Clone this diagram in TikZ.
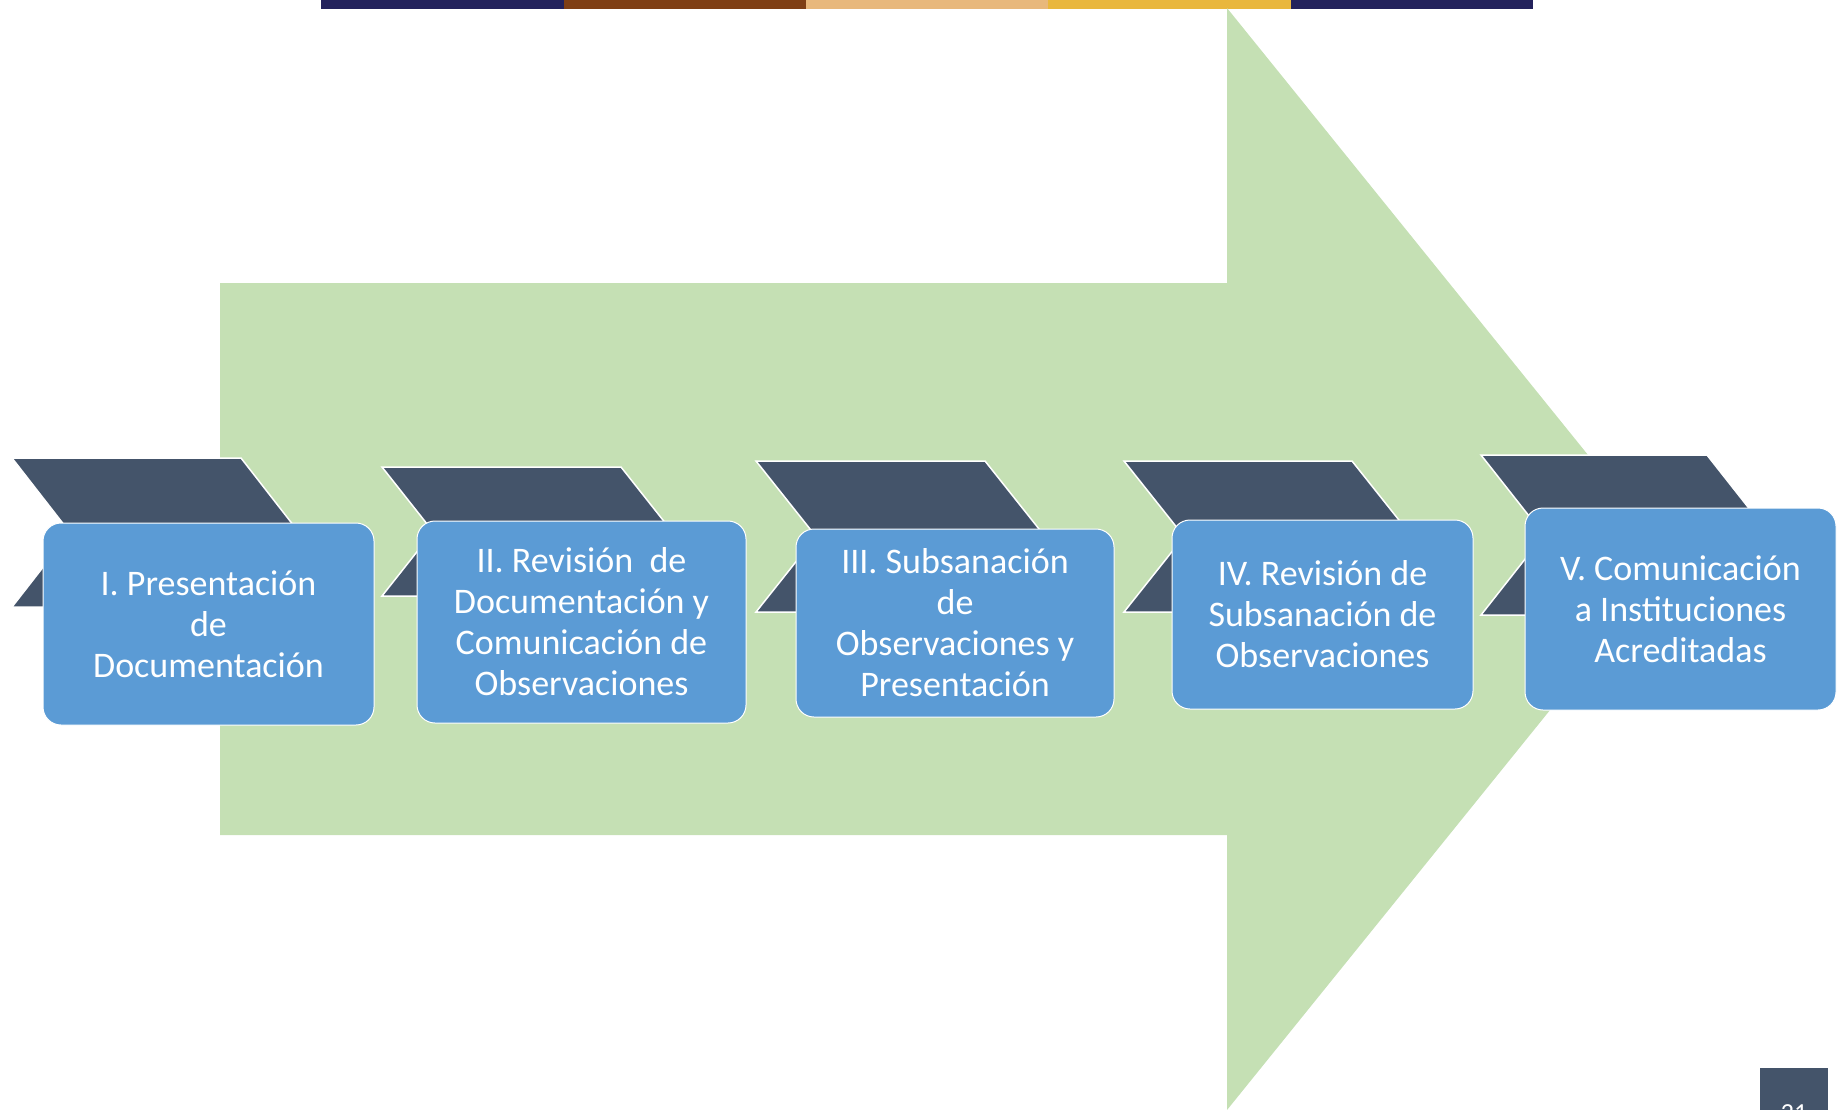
\documentclass[tikz,border=0pt]{standalone}
\usepackage{fontspec}
\setmainfont{Carlito}
\usepackage{tikz}
\usetikzlibrary{positioning}

\definecolor{arrowgreen}{HTML}{C5E0B4}
\definecolor{chevgray}{HTML}{44546A}
\definecolor{boxblue}{HTML}{5B9BD5}
\definecolor{barnavy}{HTML}{23225C}
\definecolor{barbrown}{HTML}{7F3F15}
\definecolor{bartan}{HTML}{E8B87C}
\definecolor{bargold}{HTML}{E9B73E}

\tikzset{
  chev/.style={fill=chevgray,draw=white,line width=1.5pt,line join=miter},
  stepbox/.style={draw=white,line width=1pt,fill=boxblue,rounded corners=18pt,
    text=white,align=center,inner sep=0pt,
    font=\fontsize{36}{41}\selectfont}
}

\begin{document}
\begin{tikzpicture}[x=1pt,y=-1pt]
\useasboundingbox (0,0) rectangle (1843,1109);

% colour bar on top
\fill[barnavy] (321,0) rectangle (564,9);
\fill[barbrown] (564,0) rectangle (806,9);
\fill[bartan] (806,0) rectangle (1048,9);
\fill[bargold] (1048,0) rectangle (1291,9);
\fill[barnavy] (1291,0) rectangle (1533,9);

% big arrow
\fill[arrowgreen] (220,283) -- (1227,283) -- (1227,8) -- (1672,559) -- (1227,1110) -- (1227,835) -- (220,835) -- cycle;

% chevrons
\draw[chev] (12,458) -- (241,458) -- (299,532.5) -- (241,607) -- (12,607) -- (70,532.5) -- cycle;
\draw[chev] (382,467) -- (621,467) -- (672,531.5) -- (621,596) -- (382,596) -- (433,531.5) -- cycle;
\draw[chev] (756,461) -- (985,461) -- (1045,536.5) -- (985,612) -- (756,612) -- (816,536.5) -- cycle;
\draw[chev] (1124,461) -- (1352,461) -- (1412,536.5) -- (1352,612) -- (1124,612) -- (1184,536.5) -- cycle;
\draw[chev] (1481,455) -- (1707,455) -- (1770,535) -- (1707,615) -- (1481,615) -- (1544,535) -- cycle;

% steps
\node (S1) at (208.5,624)[stepbox,minimum width=331pt,minimum height=202pt] {I. Presentación\\de\\Documentación};
\node (S2) at (581.5,622)[stepbox,minimum width=329pt,minimum height=202pt] {II. Revisión\ \ de\\Documentación y\\Comunicación de\\Observaciones};
\node (S3) at (955,623)[stepbox,minimum width=318pt,minimum height=188pt] {III. Subsanación\\de\\Observaciones y\\Presentación};
\node (S4) at (1322.5,614.5)[stepbox,minimum width=301pt,minimum height=189pt] {IV. Revisión de\\Subsanación de\\Observaciones};
\node (S5) at (1680.5,609)[stepbox,minimum width=311pt,minimum height=202pt] {V. Comunicación\\a Instituciones\\Acreditadas};

% page number
\fill[chevgray] (1760,1068) rectangle (1828,1115);
\node (pg) at (1794,1104)[anchor=north,inner sep=0pt,text=white,font=\fontsize{26}{30}\selectfont] {21};
\end{tikzpicture}
\end{document}
